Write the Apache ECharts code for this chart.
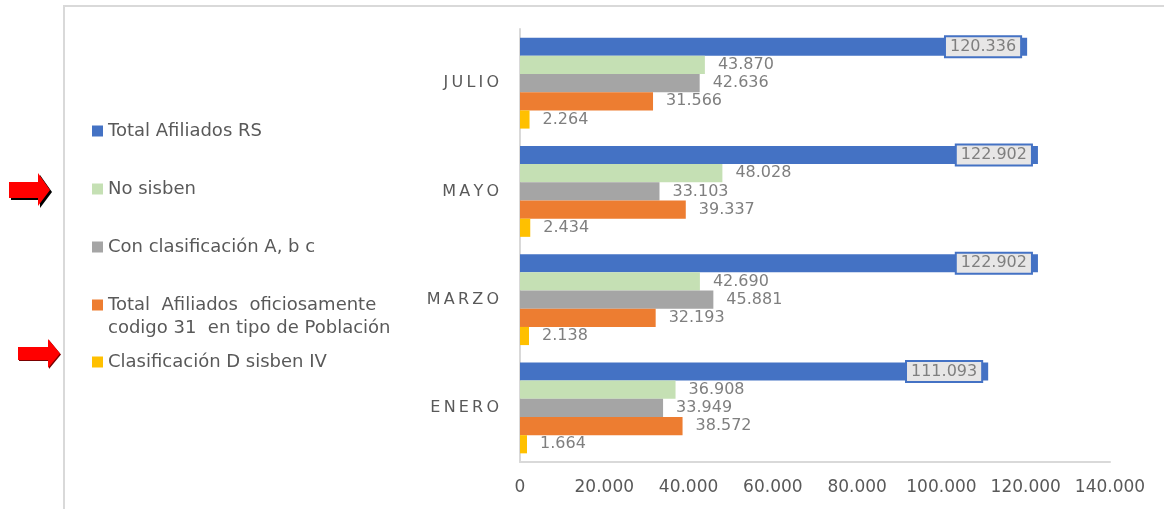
<!DOCTYPE html>
<html>
<head>
<meta charset="utf-8">
<script src="https://cdn.jsdelivr.net/npm/echarts@6/dist/echarts.min.js"></script>
<style>
html,body{margin:0;padding:0;background:#fff;}
#chart{width:1164px;height:509px;}
</style>
</head>
<body>
<div id="chart"></div>
<script>
var categories = ['ENERO', 'MARZO', 'MAYO', 'JULIO'];
var seriesNames = ['Total Afiliados RS', 'No sisben', 'Con clasificación A, b c', 'Total  Afiliados  oficiosamente\ncodigo 31  en tipo de Población', 'Clasificación D sisben IV'];
var totalAfiliados = [111093, 122902, 122902, 120336];
var noSisben = [36908, 42690, 48028, 43870];
var conClasificacion = [33949, 45881, 33103, 42636];
var oficiosamente = [38572, 32193, 39337, 31566];
var clasificacionD = [1664, 2138, 2434, 2264];
var xTicks = [0, 20000, 40000, 60000, 80000, 100000, 120000, 140000];

var colors = ['#4472c4', '#c5e0b4', '#a5a5a5', '#ed7d31', '#ffc000'];
var values = [totalAfiliados, noSisben, conClasificacion, oficiosamente, clasificacionD];

function fmt(v) {
  return String(v).replace(/\B(?=(\d{3})+(?!\d))/g, '.');
}

var FONT = 'DejaVu Sans';
var series = [];
for (var i = 0; i < 5; i++) {
  var lbl;
  if (i === 0) {
    lbl = {
      show: true, position: 'insideRight', distance: 7,
      formatter: function (p) { return fmt(p.value); },
      color: '#7f7f7f', fontFamily: FONT, fontSize: 16,
      backgroundColor: '#e7e6e6', borderColor: '#4472c4', borderWidth: 2,
      padding: [2, 4, 1, 4]
    };
  } else {
    lbl = {
      show: true, position: 'right', distance: 13,
      formatter: function (p) { return fmt(p.value); },
      color: '#7f7f7f', fontFamily: FONT, fontSize: 16
    };
  }
  series.push({
    name: seriesNames[i],
    type: 'bar',
    data: values[i],
    itemStyle: { color: colors[i] },
    barGap: '0%',
    barCategoryGap: '16%',
    label: lbl,
    animation: false
  });
}

var legendCenters = [131, 189, 247, 305, 362];
var legends = [];
for (var j = 0; j < 5; j++) {
  var twoLine = seriesNames[j].indexOf('\n') >= 0;
  legends.push({
    left: 92,
    top: twoLine ? legendCenters[j] - 34.5 : legendCenters[j] - 10,
    padding: 0,
    orient: 'vertical',
    icon: 'rect',
    itemWidth: 11,
    itemHeight: 11,
    selectedMode: false,
    data: [seriesNames[j]],
    formatter: twoLine ? function (name) { return ' \n' + name; } : null,
    textStyle: twoLine ? {
      color: '#595959', fontFamily: FONT, fontSize: 18, lineHeight: 23
    } : {
      color: '#595959', fontFamily: FONT, fontSize: 18, lineHeight: 20
    }
  });
}

function arrow(x0, yTop, yBot, xh, yhTop, yhBot, xt) {
  var yc = (yTop + yBot) / 2;
  return [[x0, yTop], [xh, yTop], [xh, yhTop], [xt, yc], [xh, yhBot], [xh, yBot], [x0, yBot]];
}
function shift(pts, d) { return pts.map(function (p) { return [p[0] + d, p[1] + d]; }); }
var a1 = arrow(9, 182, 198, 38, 173, 206, 50);
var a2 = arrow(18, 347, 360, 48, 339, 368, 60);

var option = {
  animation: false,
  backgroundColor: '#ffffff',
  grid: { left: 520, right: 54, top: 29, bottom: 47, containLabel: false },
  legend: legends,
  xAxis: {
    type: 'value', min: 0, max: 140000, interval: 20000,
    axisLine: { show: true, lineStyle: { color: '#d9d9d9', width: 2 } },
    axisTick: { show: false },
    splitLine: { show: false },
    axisLabel: {
      color: '#595959', fontFamily: FONT, fontSize: 17, margin: 17,
      formatter: function (v) { return fmt(v); }
    }
  },
  yAxis: {
    type: 'category', data: categories,
    axisLine: { show: true, lineStyle: { color: '#d9d9d9', width: 2 } },
    axisTick: { show: false },
    axisLabel: {
      color: '#595959', fontFamily: FONT, fontSize: 16, margin: 21,
      formatter: function (v) { return v.split('').join('\u2009'); }
    }
  },
  series: series,
  graphic: [
    { type: 'polyline', shape: { points: [[64, 509], [64, 6], [1164, 6]] }, style: { stroke: '#d9d9d9', lineWidth: 2, fill: null } },
    { type: 'polygon', shape: { points: shift(a1, 2) }, style: { fill: '#000000' } },
    { type: 'polygon', shape: { points: a1 }, style: { fill: '#ff0000' } },
    { type: 'polygon', shape: { points: shift(a2, 1) }, style: { fill: '#7a0000' } },
    { type: 'polygon', shape: { points: a2 }, style: { fill: '#ff0000' } }
  ]
};

var chart = echarts.init(document.getElementById('chart'), null, { renderer: 'canvas' });
chart.setOption(option);
</script>
</body>
</html>
